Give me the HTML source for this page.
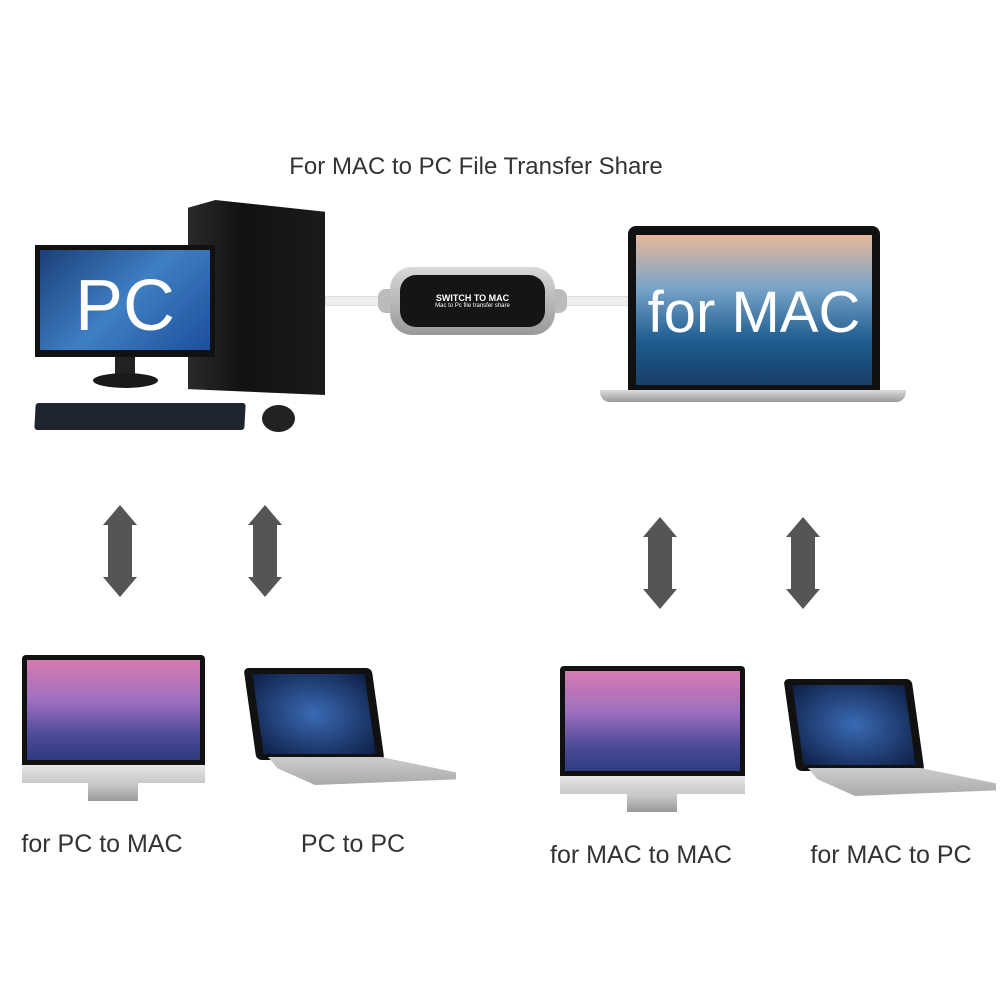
<!DOCTYPE html>
<html><head><meta charset="utf-8"><style>
body{margin:0;width:1000px;height:1000px;background:#fff;position:relative;overflow:hidden;font-family:"Liberation Sans",sans-serif;}
.a{position:absolute;}
.lbl{position:absolute;color:#333;font-size:25px;white-space:nowrap;transform:translateX(-50%);}
</style></head><body>
<div class="lbl" style="left:476px;top:153px;font-size:24px;">For MAC to PC File Transfer Share</div>

<div class="a" style="left:188px;top:200px;width:137px;height:195px;background:linear-gradient(90deg,#2a2a2a,#111 40%,#1b1b1b);clip-path:polygon(20% 0,100% 6%,100% 100%,0 97%,0 4%);"></div>
<div class="a" style="left:35px;top:245px;width:180px;height:112px;background:#111;"></div>
<div class="a" style="left:40px;top:250px;width:170px;height:100px;background:linear-gradient(135deg,#1b3f7a,#3f7fc4 50%,#1d4f9a);"></div>
<div class="a" style="left:45px;top:270px;width:160px;font-size:72px;color:#fff;text-align:center;line-height:72px;">PC</div>
<div class="a" style="left:115px;top:357px;width:20px;height:18px;background:#222;"></div>
<div class="a" style="left:93px;top:373px;width:65px;height:15px;background:#1a1a1a;border-radius:50%;"></div>
<div class="a" style="left:35px;top:403px;width:210px;height:27px;background:#1e2430;border-radius:3px;transform:skewX(-3deg);"></div>
<div class="a" style="left:262px;top:405px;width:33px;height:27px;background:#222;border-radius:50%;"></div>

<div class="a" style="left:325px;top:296px;width:305px;height:8px;background:#eee;border:1px solid #ddd;"></div>
<div class="a" style="left:378px;top:289px;width:22px;height:24px;background:#bbb;border-radius:8px;"></div>
<div class="a" style="left:545px;top:289px;width:22px;height:24px;background:#bbb;border-radius:8px;"></div>
<div class="a" style="left:390px;top:267px;width:165px;height:68px;background:linear-gradient(#d8d8d8,#999);border-radius:22px;"></div>
<div class="a" style="left:400px;top:275px;width:145px;height:52px;background:#151515;border-radius:16px;color:#fff;text-align:center;">
<div style="font-size:9px;font-weight:bold;margin-top:18px;">SWITCH TO MAC</div>
<div style="font-size:6px;">Mac to Pc file transfer share</div></div>

<div class="a" style="left:628px;top:226px;width:252px;height:166px;background:#111;border-radius:8px 8px 0 0;"></div>
<div class="a" style="left:636px;top:235px;width:236px;height:150px;background:linear-gradient(180deg,#e7b89a,#7aa5c8 35%,#1f5d91 70%,#173f66);"></div>
<div class="a" style="left:636px;top:278px;width:236px;text-align:center;font-size:58px;color:#fff;line-height:70px;">for MAC</div>
<div class="a" style="left:600px;top:390px;width:306px;height:12px;background:linear-gradient(#ddd,#999);border-radius:0 0 10px 10px;"></div>

<svg class="a" style="left:0;top:0" width="1000" height="1000">
<defs><path id="ar" fill="#555" d="M0,0 l17,20 h-5 v52 h5 l-17,20 l-17,-20 h5 v-52 h-5z"/></defs>
<use href="#ar" x="120" y="505"/>
<use href="#ar" x="265" y="505"/>
<use href="#ar" x="660" y="517"/>
<use href="#ar" x="803" y="517"/>
</svg>

<div class="a" style="left:22px;top:655px;width:183px;height:110px;background:#111;border-radius:4px 4px 0 0;"></div>
<div class="a" style="left:27px;top:660px;width:173px;height:100px;background:linear-gradient(180deg,#d67ab0,#a070c0 40%,#4d4a9a 75%,#2f3b80);"></div>
<div class="a" style="left:22px;top:765px;width:183px;height:18px;background:linear-gradient(#e6e6e6,#c8c8c8);"></div>
<div class="a" style="left:88px;top:783px;width:50px;height:18px;background:linear-gradient(#ccc,#999);"></div>
<div class="a" style="left:250px;top:668px;width:128px;height:92px;background:#111;border-radius:5px;transform:skewX(8deg);"></div>
<div class="a" style="left:258px;top:674px;width:112px;height:80px;background:radial-gradient(#3a6ab5,#0d1f45);transform:skewX(8deg);"></div>
<div class="a" style="left:268px;top:757px;width:188px;height:28px;background:linear-gradient(#ccc,#aaa);clip-path:polygon(0 0,60% 0,100% 55%,100% 80%,25% 100%,5% 40%);"></div>

<div class="a" style="left:560px;top:666px;width:185px;height:110px;background:#111;border-radius:4px 4px 0 0;"></div>
<div class="a" style="left:565px;top:671px;width:175px;height:100px;background:linear-gradient(180deg,#d67ab0,#a070c0 40%,#4d4a9a 75%,#2f3b80);"></div>
<div class="a" style="left:560px;top:776px;width:185px;height:18px;background:linear-gradient(#e6e6e6,#c8c8c8);"></div>
<div class="a" style="left:627px;top:794px;width:50px;height:18px;background:linear-gradient(#ccc,#999);"></div>
<div class="a" style="left:790px;top:679px;width:128px;height:92px;background:#111;border-radius:5px;transform:skewX(8deg);"></div>
<div class="a" style="left:798px;top:685px;width:112px;height:80px;background:radial-gradient(#3a6ab5,#0d1f45);transform:skewX(8deg);"></div>
<div class="a" style="left:808px;top:768px;width:188px;height:28px;background:linear-gradient(#ccc,#aaa);clip-path:polygon(0 0,60% 0,100% 55%,100% 80%,25% 100%,5% 40%);"></div>

<div class="lbl" style="left:102px;top:830px;">for PC to MAC</div>
<div class="lbl" style="left:353px;top:830px;">PC to PC</div>
<div class="lbl" style="left:641px;top:841px;">for MAC to MAC</div>
<div class="lbl" style="left:891px;top:841px;">for MAC to PC</div>
</body></html>
